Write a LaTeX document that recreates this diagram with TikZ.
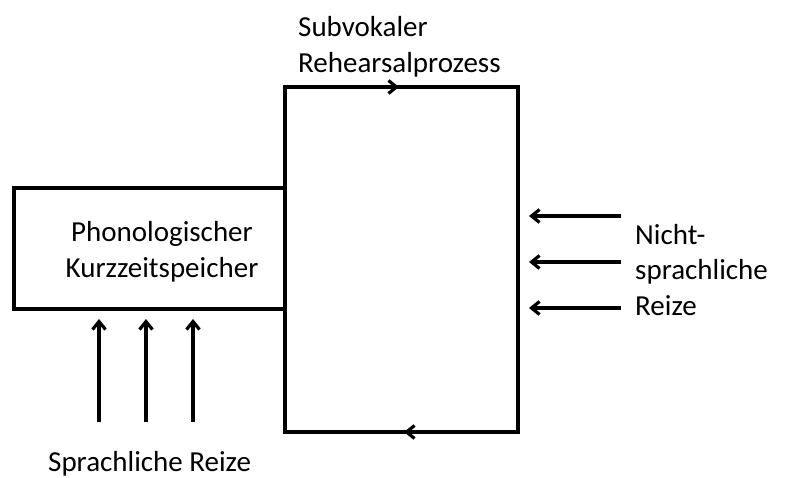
\documentclass[tikz,border=0pt]{standalone}
\usepackage{fontspec}
\setmainfont{Carlito}
\usetikzlibrary{arrows.meta}
\begin{document}
\begin{tikzpicture}[x=1pt,y=-1pt,
  line/.style={line width=3.2pt, line cap=rect, line join=miter},
  arr/.style={line width=3.2pt, -{Straight Barb[length=8pt,width=13pt,line width=3.2pt]}},
  lbl/.style={inner sep=0pt, font=\fontsize{29}{35.5}\selectfont},
  boxnode/.style={draw, line width=3.2pt, outer sep=0pt, minimum width=271pt, minimum height=121pt, inner sep=0pt}]
\useasboundingbox (0,0) rectangle (785,477);
% store
\node[boxnode] (store) at (149.5,248.5) {};
\node[lbl, align=center, anchor=base] (storetext) at (162,277) {Phonologischer\\Kurzzeitspeicher};
% loop corners
\coordinate (tl) at (285,87);
\coordinate (tr) at (518,87);
\coordinate (br) at (518,432);
\coordinate (bl) at (285,432);
\coordinate (topmid) at (399,87);
\coordinate (botmid) at (404,432);
\draw[line] (store.north east) -- (tl) -- (tr) -- (br) -- (bl) -- (store.south east);
\draw[arr] (tl) -- (topmid);
\draw[arr] (br) -- (botmid);
% speech input arrows
\coordinate (s1) at (99,422);
\coordinate (s2) at (146,422);
\coordinate (s3) at (193,422);
\coordinate (t1) at (99,319);
\coordinate (t2) at (146,319);
\coordinate (t3) at (193,319);
\draw[arr] (s1) -- (t1);
\draw[arr] (s2) -- (t2);
\draw[arr] (s3) -- (t3);
% non-speech arrows
\coordinate (n1) at (621,216);
\coordinate (n2) at (621,262);
\coordinate (n3) at (621,308);
\coordinate (m1) at (529,216);
\coordinate (m2) at (529,262);
\coordinate (m3) at (529,308);
\draw[arr] (n1) -- (m1);
\draw[arr] (n2) -- (m2);
\draw[arr] (n3) -- (m3);
% labels
\node[lbl, anchor=base west, align=left] (sub) at (298,72) {Subvokaler\\Rehearsalprozess};
\node[lbl, anchor=base west, align=left] (nicht) at (635,315) {Nicht-\\sprachliche\\Reize};
\node[lbl, anchor=base west] (sprach) at (48,471) {Sprachliche Reize};
\end{tikzpicture}
\end{document}
